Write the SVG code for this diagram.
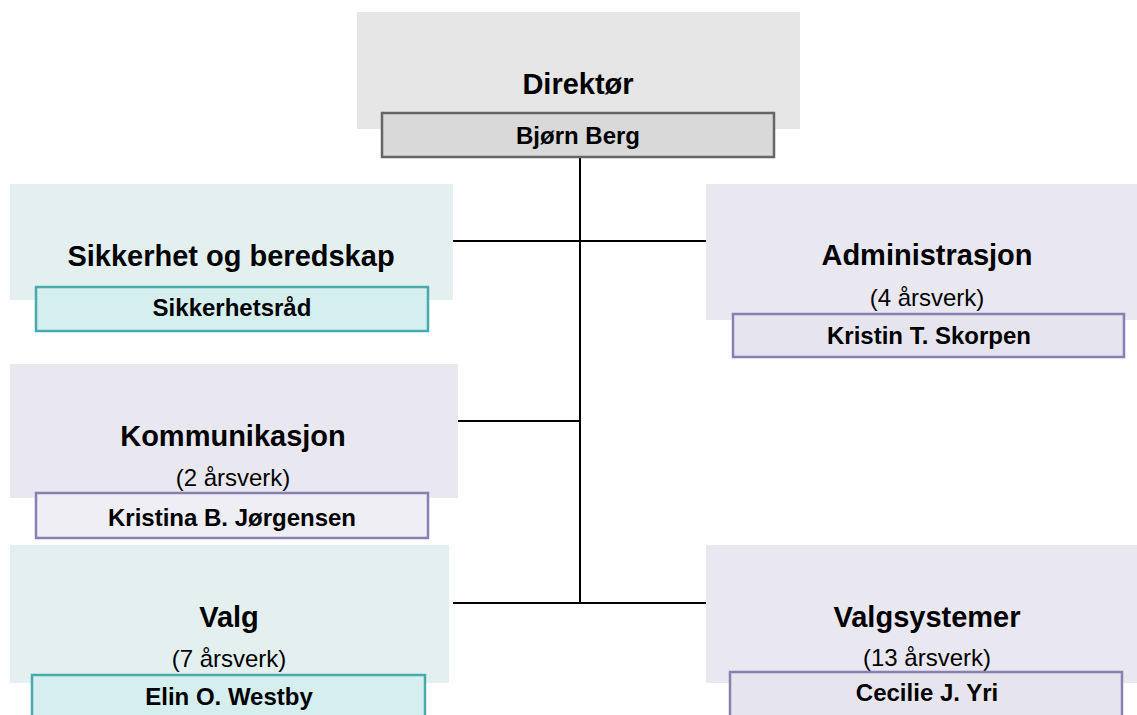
<svg xmlns="http://www.w3.org/2000/svg" width="1137" height="715" viewBox="0 0 1137 715">
<style>
.t{font-family:"Liberation Sans",Arial,sans-serif;font-weight:bold;font-size:29px;fill:#000;text-anchor:middle}
.s{font-family:"Liberation Sans",Arial,sans-serif;font-size:24px;fill:#000;text-anchor:middle}
.n{font-family:"Liberation Sans",Arial,sans-serif;font-weight:bold;font-size:24px;fill:#000;text-anchor:middle}
.gbg{fill:#e6e6e6}
.gbx{fill:#d9d9d9;stroke:#666666;stroke-width:2.5}
.tbg{fill:#e4f0f0}
.tbx{fill:#d5eeee;stroke:#48aaaa;stroke-width:2.5}
.pbg{fill:#e9e8f1}
.pbx{fill:#e6e5ee;stroke:#8a7fb3;stroke-width:2.5}
.pbx2{fill:#efeef5;stroke:#8a7fb3;stroke-width:2.5}
.c{stroke:#000;stroke-width:2;fill:none}
</style>
<rect width="1137" height="715" fill="#ffffff"/>
<g id="connectors">
<line class="c" x1="580" y1="157" x2="580" y2="604"/>
<line class="c" x1="453" y1="241" x2="706" y2="241"/>
<line class="c" x1="458" y1="421" x2="580" y2="421"/>
<line class="c" x1="453" y1="603" x2="706" y2="603"/>
</g>
<g id="direktor">
<rect class="gbg" x="357" y="12" width="443" height="117"/>
<text class="t" x="578" y="94">Direktør</text>
<rect class="gbx" x="382" y="113" width="392" height="44"/>
<text class="n" x="578" y="144">Bjørn Berg</text>
</g>
<g id="sikkerhet">
<rect class="tbg" x="10" y="184" width="443" height="116"/>
<text class="t" x="231" y="266">Sikkerhet og beredskap</text>
<rect class="tbx" x="36" y="287" width="392" height="44"/>
<text class="n" x="232" y="316">Sikkerhetsråd</text>
</g>
<g id="administrasjon">
<rect class="pbg" x="706" y="184" width="431" height="136"/>
<text class="t" x="927" y="265">Administrasjon</text>
<text class="s" x="927" y="306">(4 årsverk)</text>
<rect class="pbx" x="733" y="314" width="391" height="43"/>
<text class="n" x="929" y="344">Kristin T. Skorpen</text>
</g>
<g id="kommunikasjon">
<rect class="pbg" x="10" y="364" width="448" height="134"/>
<text class="t" x="233" y="446">Kommunikasjon</text>
<text class="s" x="233" y="486">(2 årsverk)</text>
<rect class="pbx2" x="36" y="493" width="392" height="45"/>
<text class="n" x="232" y="526">Kristina B. Jørgensen</text>
</g>
<g id="valg">
<rect class="tbg" x="10" y="545" width="439" height="138"/>
<text class="t" x="229" y="627">Valg</text>
<text class="s" x="229" y="667">(7 årsverk)</text>
<rect class="tbx" x="32" y="675" width="393" height="45"/>
<text class="n" x="229" y="705">Elin O. Westby</text>
</g>
<g id="valgsystemer">
<rect class="pbg" x="706" y="545" width="431" height="138"/>
<text class="t" x="927" y="627">Valgsystemer</text>
<text class="s" x="927" y="666">(13 årsverk)</text>
<rect class="pbx" x="730" y="672" width="392" height="48"/>
<text class="n" x="927" y="701">Cecilie J. Yri</text>
</g>
</svg>
